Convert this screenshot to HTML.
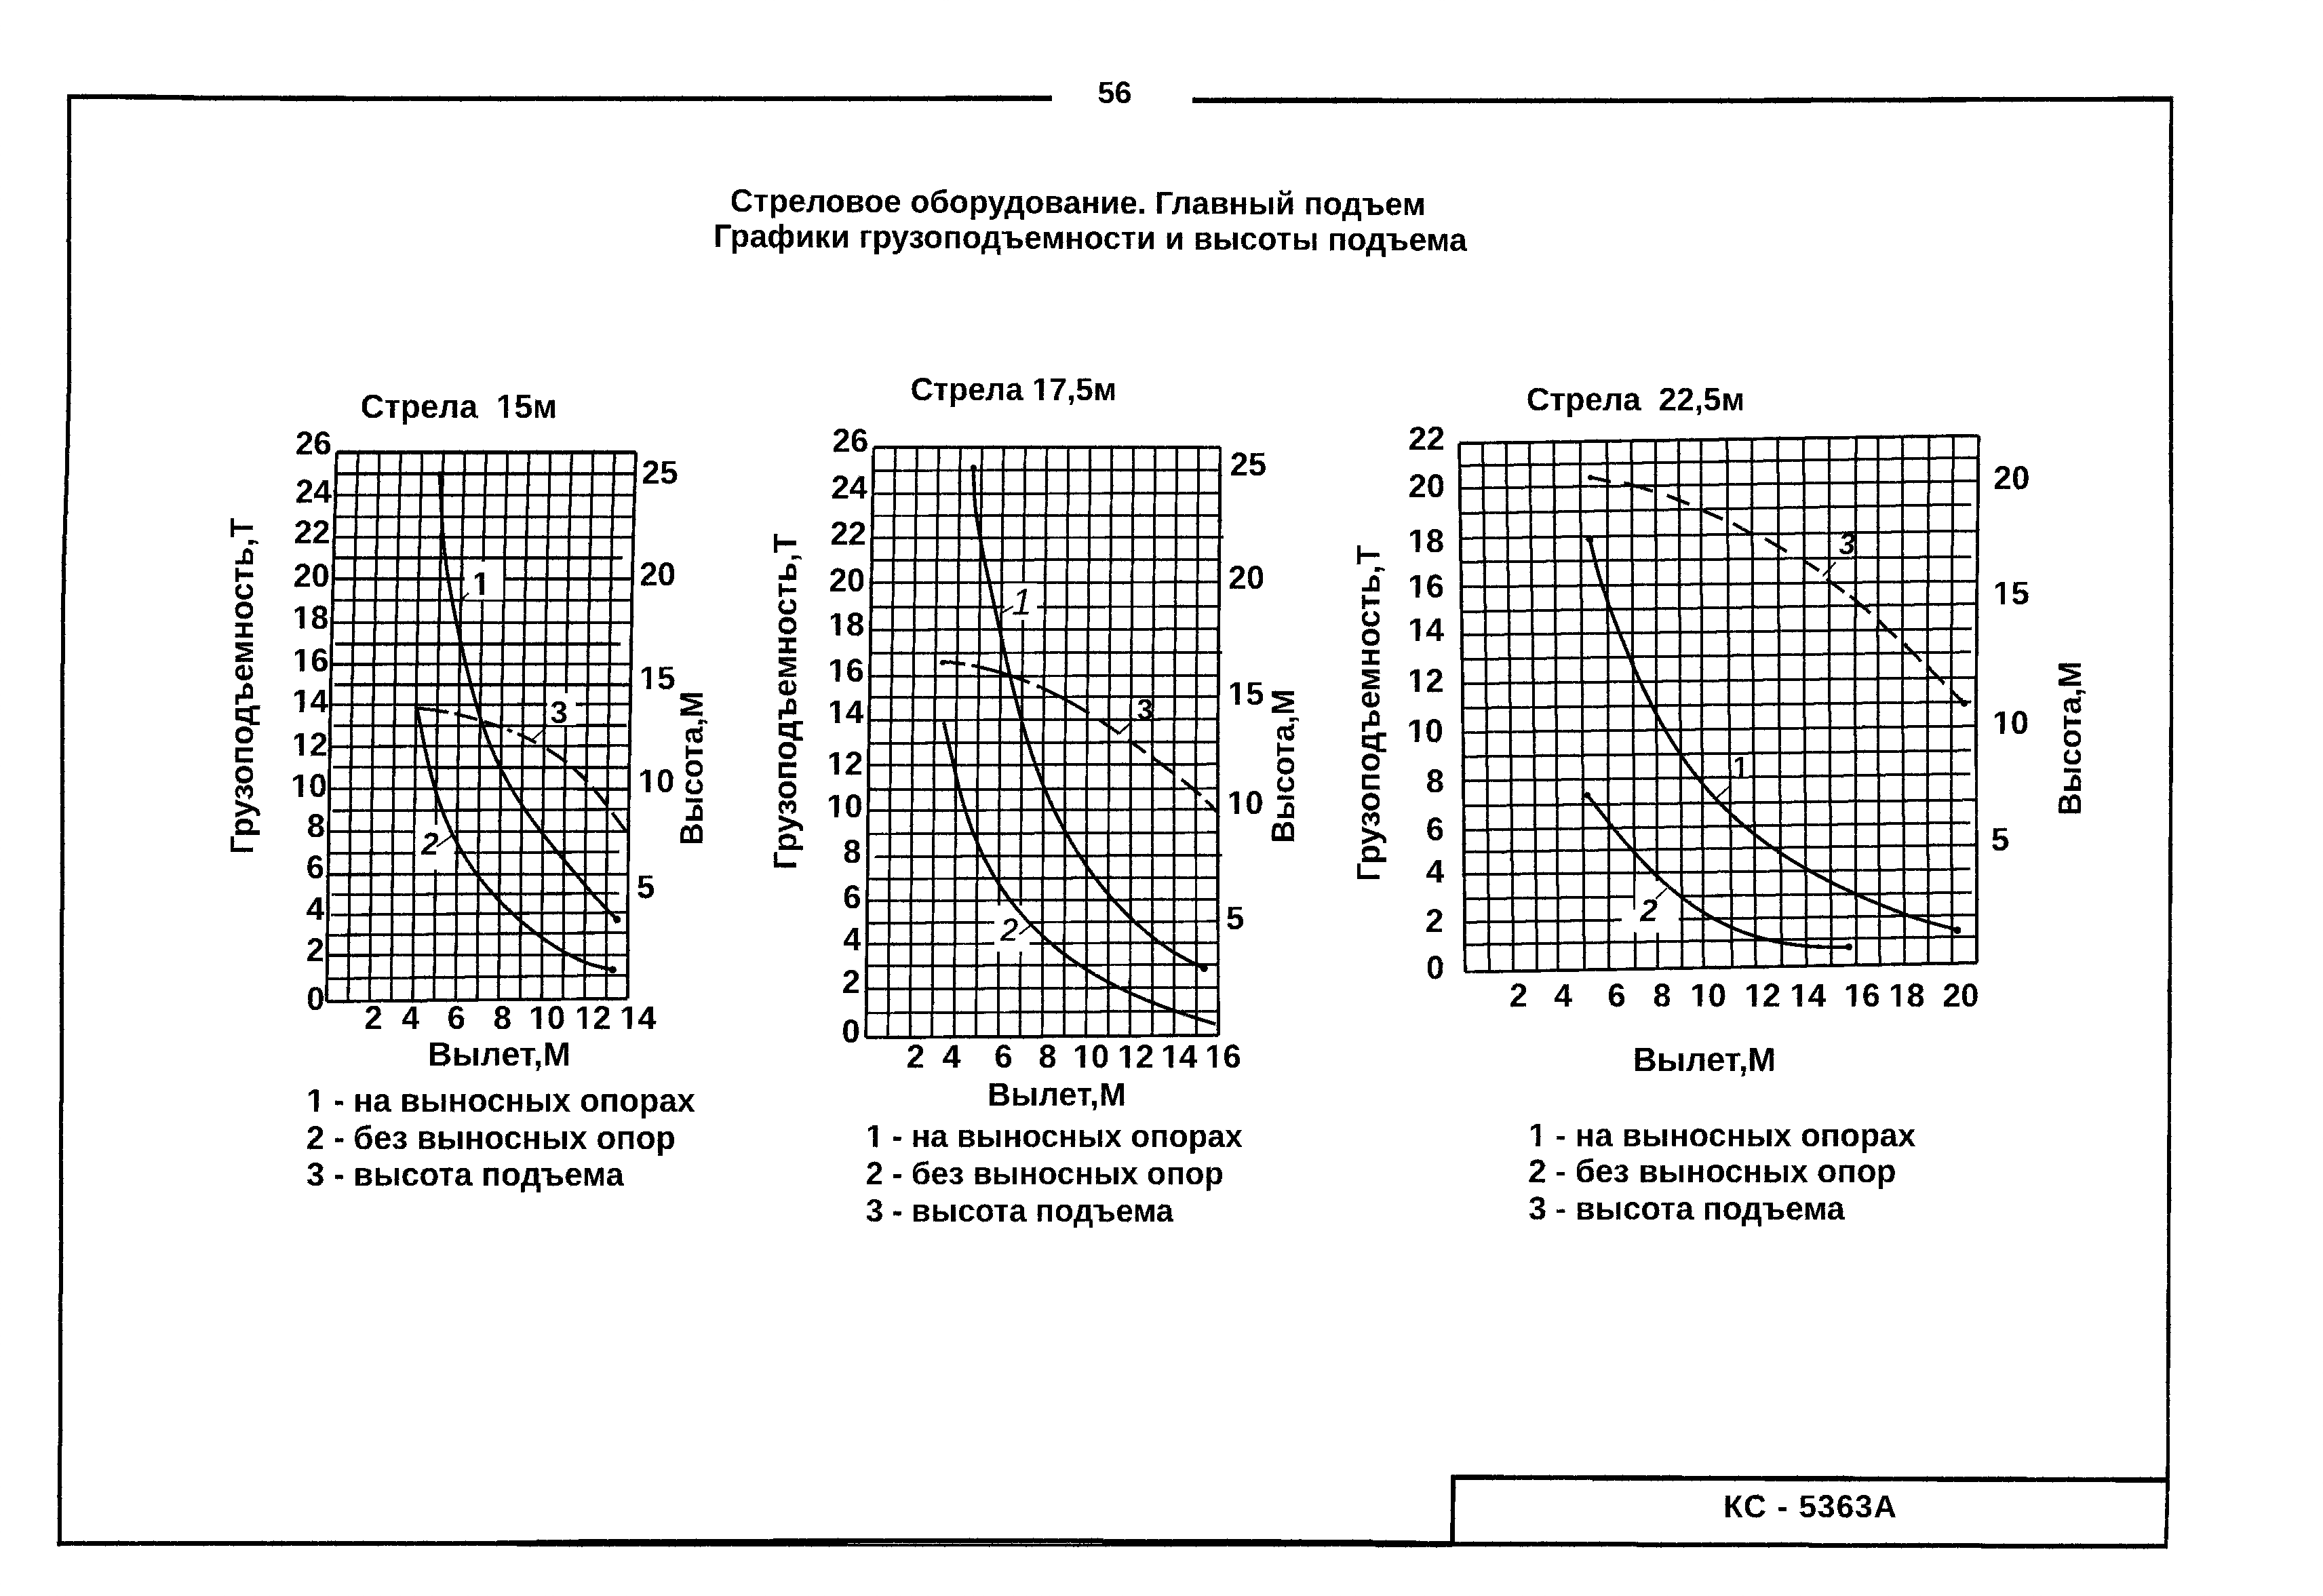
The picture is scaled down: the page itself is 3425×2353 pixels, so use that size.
<!DOCTYPE html>
<html lang="ru"><head><meta charset="utf-8"><title>КС - 5363А — стр. 56</title>
<style>
html,body{margin:0;padding:0;background:#fdfdfd;}
body{width:3425px;height:2353px;overflow:hidden;position:relative;}
svg{position:absolute;left:0;top:0;display:block;}
svg text{font-family:"Liberation Sans",sans-serif;font-weight:bold;fill:#000;stroke:none;text-rendering:geometricPrecision;}
svg line,svg polyline,svg path{stroke:#000;fill:none;stroke-linecap:butt;stroke-linejoin:round;}
</style></head><body>
<svg width="3425" height="2353" viewBox="0 0 3425 2353">
<defs><filter id="rough" x="0" y="0" width="100%" height="100%" filterUnits="userSpaceOnUse" color-interpolation-filters="sRGB"><feTurbulence type="fractalNoise" baseFrequency="0.35" numOctaves="2" seed="7" result="n"/><feDisplacementMap in="SourceGraphic" in2="n" scale="2.2" xChannelSelector="R" yChannelSelector="G" result="d"/><feComponentTransfer in="d"><feFuncR type="discrete" tableValues="0 1"/><feFuncG type="discrete" tableValues="0 1"/><feFuncB type="discrete" tableValues="0 1"/></feComponentTransfer></filter></defs>
<rect x="0" y="0" width="3425" height="2353" fill="#fdfdfd" stroke="none"/>
<g filter="url(#rough)">
<rect x="0" y="0" width="3425" height="2353" fill="#fdfdfd" stroke="none"/>
<g id="frame">
<polyline points="102.2,139.4 101.5,355 102,560 98.6,698 93.9,835 92.3,1000 92,1200 89,2050 87.6,2279" stroke-width="6"/>
<polyline points="99.2,142.4 230,143.2 320,144.7 800,145.6 1250,145.5 1551,144.8" stroke-width="7.2"/>
<polyline points="1758,148 2500,148.6 2950,146.6 3204,145.9" stroke-width="7.2"/>
<polyline points="3201.4,143 3200.6,355 3201.7,1000 3200,1275 3196.6,2050 3196.2,2182 3193.4,2283" stroke-width="5.5"/>
<polyline points="84.6,2276 700,2275.5 900,2272.3 1500,2271.5 2000,2273.5 2143,2276 3196,2280" stroke-width="7"/>
<polyline points="650,2277.3 900,2277.5 1500,2278 2143,2278.6" stroke-width="4"/>
<line x1="2139.5" y1="2178" x2="3198" y2="2182" stroke-width="7.5"/>
<line x1="2142.8" y1="2175" x2="2141.3" y2="2278" stroke-width="6.5"/>
</g>
<g id="pagetext">
<text transform="translate(1643.5 152) scale(0.9852 1)" font-size="45.7" text-anchor="middle">56</text>
<text transform="translate(1589.3 314.6) rotate(0.3) scale(0.9852 1)" font-size="47.6" text-anchor="middle">Стреловое оборудование. Главный подъем</text>
<text transform="translate(1607.3 366.9) rotate(0.3) scale(0.9852 1)" font-size="47.6" text-anchor="middle">Графики грузоподъемности и высоты подъема</text>
<text transform="translate(2669.5 2236.6) scale(0.9852 1)" font-size="47.2" text-anchor="middle" letter-spacing="1.7">КС - 5363А</text>
</g>
<g id="chart1">
<polyline points="496.4,667 493.6,768.2 490.9,869.4 488.4,970.6 486.7,1071.8 485.4,1172.9 484.1,1274.1 482.9,1375.3 481.6,1476.5" stroke-width="4.8"/>
<polyline points="527.9,667 525,768.1 522.4,869.3 520,970.4 518.2,1071.6 516.9,1172.7 515.7,1273.9 514.5,1375 513.3,1476.2" stroke-width="4.1"/>
<polyline points="559.4,667 556.5,768.1 553.9,869.2 551.5,970.3 549.8,1071.4 548.5,1172.5 547.3,1273.6 546.1,1374.8 545,1475.9" stroke-width="4.1"/>
<polyline points="590.9,667 588,768.1 585.4,869.1 583.1,970.2 581.4,1071.3 580.1,1172.3 578.8,1273.4 577.8,1374.5 576.7,1475.5" stroke-width="4.1"/>
<polyline points="622.4,667 619.5,768 616.9,869.1 614.7,970.1 613,1071.1 611.6,1172.1 610.4,1273.2 609.4,1374.2 608.4,1475.2" stroke-width="4.1"/>
<polyline points="653.9,667 651,768 648.5,869 646.2,970 644.6,1070.9 643.2,1171.9 642,1272.9 641,1373.9 640.1,1474.9" stroke-width="4.1"/>
<polyline points="685.4,667 682.4,767.9 680,868.9 677.8,969.8 676.2,1070.8 674.7,1171.7 673.5,1272.7 672.7,1373.6 671.8,1474.6" stroke-width="4.1"/>
<polyline points="717,667 713.9,767.9 711.5,868.8 709.4,969.7 707.7,1070.6 706.3,1171.5 705.1,1272.4 704.3,1373.3 703.5,1474.2" stroke-width="4.1"/>
<polyline points="748.5,667 745.4,767.9 743,868.7 741,969.6 739.3,1070.5 737.8,1171.3 736.7,1272.2 735.9,1373.1 735.1,1473.9" stroke-width="4.1"/>
<polyline points="780,667 776.9,767.8 774.5,868.7 772.5,969.5 770.9,1070.3 769.4,1171.1 768.3,1272 767.5,1372.8 766.8,1473.6" stroke-width="4.1"/>
<polyline points="811.5,667 808.4,767.8 806,868.6 804.1,969.4 802.5,1070.1 801,1170.9 799.8,1271.7 799.2,1372.5 798.5,1473.3" stroke-width="4.1"/>
<polyline points="843,667 839.8,767.7 837.5,868.5 835.7,969.2 834.1,1070 832.5,1170.7 831.4,1271.5 830.8,1372.2 830.2,1473" stroke-width="4.1"/>
<polyline points="874.5,667 871.3,767.7 869,868.4 867.2,969.1 865.7,1069.8 864.1,1170.5 863,1271.2 862.4,1371.9 861.9,1472.6" stroke-width="4.1"/>
<polyline points="906,667 902.8,767.7 900.5,868.3 898.8,969 897.3,1069.7 895.6,1170.3 894.5,1271 894.1,1371.7 893.6,1472.3" stroke-width="4.1"/>
<polyline points="937.5,667 934.3,767.6 932,868.2 930.4,968.9 928.8,1069.5 927.2,1170.1 926.1,1270.8 925.7,1371.4 925.3,1472" stroke-width="4.8"/>
<polyline points="496.4,667 569.9,667 643.4,667 717,667 790.5,667 864,667 937.5,667" stroke-width="4.8"/>
<polyline points="495.5,698.4 569,698.4 642.5,698.4 716,698.4 789.5,698.4 863,698.4 936.5,698.4" stroke-width="4.1"/>
<polyline points="494.6,730.1 568.1,730.1 641.6,730.1 715.1,730.1 788.5,730.1 862,730.1 935.5,730.1" stroke-width="4.1"/>
<polyline points="493.7,761.8 567.2,761.8 640.6,761.8 714.1,761.8 787.6,761.8 861,761.8 934.5,761.8" stroke-width="4.1"/>
<polyline points="492.9,792.1 566.3,792.1 639.8,792.1 713.2,792.1 786.7,792.1 860.1,792.1 933.6,792.1" stroke-width="4.1"/>
<polyline points="492.1,822.5 563,822.5 633.9,822.5 704.8,822.5 775.7,822.5 846.6,822.5 917.5,822.5" stroke-width="4.1"/>
<polyline points="491.3,853.6 564.8,853.6 638.3,853.6 711.8,853.6 785.3,853.6 858.8,853.6 932.3,853.6" stroke-width="4.1"/>
<polyline points="490.5,885.3 564,885.3 637.6,885.2 711.1,885.2 784.6,885.1 858.2,885.1 931.7,885.1" stroke-width="4.1"/>
<polyline points="489.7,917.8 563.3,917.9 636.9,917.9 710.4,918 784,918 857.6,918.1 931.2,918.2" stroke-width="4.1"/>
<polyline points="494.2,949.4 564.4,949.4 634.6,949.4 704.7,949.4 774.9,949.4 845.1,949.4 915.2,949.4" stroke-width="4.1"/>
<polyline points="488.2,979.6 561.9,979.4 635.5,979.3 709.2,979.1 782.9,979 856.6,978.8 930.2,978.7" stroke-width="4.1"/>
<polyline points="493,1009.4 565.8,1009.4 638.6,1009.4 711.4,1009.4 784.2,1009.4 857,1009.4 929.8,1009.4" stroke-width="4.1"/>
<polyline points="487.2,1039.3 560.9,1039.1 634.5,1038.9 708.2,1038.7 781.9,1038.6 855.6,1038.4 929.3,1038.2" stroke-width="4.1"/>
<polyline points="492,1070.1 564.1,1070 636.1,1069.9 708.2,1069.8 780.3,1069.7 852.4,1069.6 924.4,1069.5" stroke-width="4.1"/>
<polyline points="486.3,1100.8 560,1100.6 633.6,1100.3 707.3,1100.1 781,1099.8 854.7,1099.6 928.4,1099.3" stroke-width="4.1"/>
<polyline points="491.2,1131.3 564,1131.3 636.8,1131.4 709.5,1131.4 782.3,1131.4 855.1,1131.5 927.8,1131.5" stroke-width="4.1"/>
<polyline points="485.5,1162.7 559.2,1162.8 632.8,1163 706.4,1163.1 780,1163.3 853.7,1163.4 927.3,1163.5" stroke-width="4.1"/>
<polyline points="490.4,1195.5 563.1,1195.1 635.9,1194.7 708.6,1194.4 781.3,1194 854.1,1193.6 926.8,1193.2" stroke-width="4.1"/>
<polyline points="484.7,1225.9 558.3,1225.9 631.9,1226 705.5,1226 779.1,1226.1 852.7,1226.1 926.3,1226.1" stroke-width="4.1"/>
<polyline points="486.5,1258.2 557.6,1257.8 628.7,1257.5 699.7,1257.1 770.8,1256.7 841.9,1256.4 912.9,1256" stroke-width="4.1"/>
<polyline points="483.9,1289.5 557.6,1289.4 631.3,1289.3 705,1289.1 778.7,1289 852.4,1288.9 926,1288.8" stroke-width="4.1"/>
<polyline points="488.9,1319.2 559.5,1318.8 630.1,1318.5 700.8,1318.1 771.4,1317.7 842,1317.4 912.7,1317" stroke-width="4.1"/>
<polyline points="488.5,1349 561.4,1348.3 634.3,1347.7 707.2,1347.1 780,1346.4 852.9,1345.8 925.8,1345.2" stroke-width="4.1"/>
<polyline points="482.8,1378.8 556.6,1378.2 630.4,1377.5 704.3,1376.9 778.1,1376.3 851.9,1375.6 925.7,1375" stroke-width="4.1"/>
<polyline points="482.4,1408.5 556.3,1408.4 630.1,1408.3 704,1408.1 777.8,1408 851.7,1407.9 925.6,1407.8" stroke-width="4.1"/>
<polyline points="482,1443 555.9,1442.1 629.8,1441.2 703.7,1440.3 777.6,1439.4 851.5,1438.5 925.4,1437.6" stroke-width="4.1"/>
<polyline points="481.6,1476.5 555.5,1475.8 629.5,1475 703.5,1474.2 777.4,1473.5 851.3,1472.8 925.3,1472" stroke-width="4.8"/>
<rect x="685" y="828" width="57" height="56" fill="#fdfdfd" stroke="none"/>
<rect x="806.5" y="1022" width="42.3" height="47" fill="#fdfdfd" stroke="none"/>
<rect x="612" y="1216" width="58" height="66" fill="#fdfdfd" stroke="none"/>
<path d="M648.3 698.5C648.7 706.6 649.8 730.7 650.7 746.9C651.6 763.1 652.2 779.6 653.7 795.8C655.2 812 657.2 828 659.5 844C661.9 860 664.8 875.8 667.8 891.7C670.8 907.5 674.2 923.3 677.6 939.2C681.1 955 684.6 970.9 688.5 986.7C692.4 1002.5 696.3 1018.3 700.9 1033.9C705.4 1049.5 710.2 1065 715.7 1080.2C721.3 1095.4 727.3 1110.3 734.2 1124.9C741.1 1139.4 748.7 1153.6 757 1167.5C765.3 1181.3 774.5 1194.7 783.9 1207.8C793.4 1221 803.6 1233.7 813.8 1246.4C823.9 1259.1 834.5 1271.6 844.9 1283.9C855.3 1296.3 865.4 1308.8 876.2 1320.8C887 1332.8 904.2 1350.1 909.8 1356" stroke-width="5.2"/>
<path d="M614.8 1044.4C615.9 1050 619.3 1066.9 621.6 1078C623.9 1089.2 626 1100.3 628.4 1111.4C630.8 1122.5 633.3 1133.6 636.2 1144.6C639.1 1155.6 642.3 1166.6 645.9 1177.4C649.5 1188.3 653.4 1199 657.8 1209.5C662.3 1220 667.1 1230.4 672.4 1240.4C677.7 1250.5 683.5 1260.3 689.7 1269.8C695.9 1279.3 702.5 1288.6 709.5 1297.5C716.6 1306.4 724 1315 731.8 1323.3C739.5 1331.6 747.7 1339.7 756.1 1347.4C764.5 1355.1 773.2 1362.5 782.1 1369.6C791.1 1376.7 800.3 1383.6 809.8 1389.9C819.2 1396.2 828.9 1402.3 838.9 1407.6C849 1412.9 859.2 1417.9 870 1421.5C880.7 1425.2 897.9 1428.2 903.5 1429.5" stroke-width="5.2"/>
<path d="M614.8 1044C619 1044.4 631.6 1045.5 639.8 1046.7C648 1047.9 656.1 1049.3 664.2 1051C672.2 1052.6 680.2 1054.5 688.2 1056.6C696.2 1058.6 704.2 1060.8 712.1 1063.3C720 1065.7 727.9 1068.3 735.7 1071.1C743.6 1073.9 751.4 1076.8 759 1080.1C766.7 1083.3 774.3 1086.7 781.7 1090.4C789.1 1094.1 796.5 1098.1 803.6 1102.3C810.7 1106.6 817.6 1111.1 824.3 1115.9C831 1120.7 837.5 1125.8 843.7 1131.2C850 1136.6 856 1142.3 861.8 1148.3C867.6 1154.2 873.1 1160.4 878.4 1166.8C883.8 1173.2 888.9 1179.8 894 1186.5C899 1193.1 903.9 1199.9 908.8 1206.6C913.8 1213.2 921.2 1222.9 923.7 1226.2" stroke-width="5" stroke-dasharray="47 9 35 10 30 6 8 8 31 18 36 10 32 10 34 14 60"/>
<circle cx="648.4" cy="699" r="4.5" fill="#000" stroke="none"/>
<circle cx="909.6" cy="1355.5" r="5.5" fill="#000" stroke="none"/>
<circle cx="903.4" cy="1429.8" r="5.5" fill="#000" stroke="none"/>
<line x1="690.9" y1="874.5" x2="680.5" y2="883.5" stroke-width="2.6"/>
<line x1="803.7" y1="1073.6" x2="783" y2="1092.4" stroke-width="2.6"/>
<line x1="643.9" y1="1248.4" x2="668.3" y2="1230.5" stroke-width="2.6"/>
<text transform="translate(709.5 877) scale(0.9852 1)" font-size="48.7" text-anchor="middle">1</text>
<text transform="translate(824.3 1065.5) scale(0.9852 1)" font-size="46.7" text-anchor="middle">3</text>
<text transform="translate(634 1259.8) scale(0.9852 1)" font-size="46.7" text-anchor="middle" font-style="italic">2</text>
<text transform="translate(531.5 616) scale(0.9852 1)" font-size="49.2" xml:space="preserve">Стрела  15м</text>
<text transform="translate(489 669.5) scale(0.9852 1)" font-size="48.7" text-anchor="end">26</text>
<text transform="translate(489 741) scale(0.9852 1)" font-size="48.7" text-anchor="end">24</text>
<text transform="translate(487 801.2) scale(0.9852 1)" font-size="48.7" text-anchor="end">22</text>
<text transform="translate(486 864.5) scale(0.9852 1)" font-size="48.7" text-anchor="end">20</text>
<text transform="translate(484.7 927.4) scale(0.9852 1)" font-size="48.7" text-anchor="end">18</text>
<text transform="translate(484.7 990) scale(0.9852 1)" font-size="48.7" text-anchor="end">16</text>
<text transform="translate(484 1049.8) scale(0.9852 1)" font-size="48.7" text-anchor="end">14</text>
<text transform="translate(483.5 1113.5) scale(0.9852 1)" font-size="48.7" text-anchor="end">12</text>
<text transform="translate(482.3 1174.6) scale(0.9852 1)" font-size="48.7" text-anchor="end">10</text>
<text transform="translate(479.2 1233.5) scale(0.9852 1)" font-size="48.7" text-anchor="end">8</text>
<text transform="translate(478.2 1295.2) scale(0.9852 1)" font-size="48.7" text-anchor="end">6</text>
<text transform="translate(478.2 1356.2) scale(0.9852 1)" font-size="48.7" text-anchor="end">4</text>
<text transform="translate(478.2 1417.3) scale(0.9852 1)" font-size="48.7" text-anchor="end">2</text>
<text transform="translate(465.3 1489.3) scale(0.9852 1)" font-size="48.7" text-anchor="middle">0</text>
<text transform="translate(973 713) scale(0.9852 1)" font-size="48.7" text-anchor="middle">25</text>
<text transform="translate(969.6 863.2) scale(0.9852 1)" font-size="48.7" text-anchor="middle">20</text>
<text transform="translate(969.1 1016.2) scale(0.9852 1)" font-size="48.7" text-anchor="middle">15</text>
<text transform="translate(967.8 1168.4) scale(0.9852 1)" font-size="48.7" text-anchor="middle">10</text>
<text transform="translate(952.2 1324) scale(0.9852 1)" font-size="48.7" text-anchor="middle">5</text>
<text transform="translate(550.5 1516.8) scale(0.9852 1)" font-size="48.7" text-anchor="middle">2</text>
<text transform="translate(605.4 1516.8) scale(0.9852 1)" font-size="48.7" text-anchor="middle">4</text>
<text transform="translate(672.8 1516.8) scale(0.9852 1)" font-size="48.7" text-anchor="middle">6</text>
<text transform="translate(740.8 1516.8) scale(0.9852 1)" font-size="48.7" text-anchor="middle">8</text>
<text transform="translate(806.7 1516.8) scale(0.9852 1)" font-size="48.7" text-anchor="middle">10</text>
<text transform="translate(874.2 1516.8) scale(0.9852 1)" font-size="48.7" text-anchor="middle">12</text>
<text transform="translate(940.5 1516.8) scale(0.9852 1)" font-size="48.7" text-anchor="middle">14</text>
<text transform="translate(736 1570.8) scale(0.9852 1)" font-size="50.2" text-anchor="middle">Вылет,М</text>
<text transform="translate(451.8 1639.2) scale(0.9852 1)" font-size="48.7">1 - на выносных опорах</text>
<text transform="translate(451.8 1694.2) scale(0.9852 1)" font-size="48.7">2 - без выносных опор</text>
<text transform="translate(451.8 1748) scale(0.9852 1)" font-size="48.7">3 - высота подъема</text>
<text transform="translate(373 1011.5) rotate(-90) scale(0.9852 1)" font-size="48.7" text-anchor="middle">Грузоподъемность,Т</text>
<text transform="translate(1036 1133) rotate(-90) scale(0.9852 1)" font-size="47.4" text-anchor="middle">Высота,М</text>
</g>
<g id="chart2">
<polyline points="1288.1,660 1286.3,768.7 1284.5,877.4 1282.8,986.1 1281,1094.8 1279.9,1203.5 1278.9,1312.2 1277.8,1420.9 1276.8,1529.6" stroke-width="4.8"/>
<polyline points="1320,660 1318.3,768.6 1316.6,877.3 1314.9,986 1313.1,1094.7 1312.1,1203.4 1311.2,1312 1310.2,1420.7 1309.3,1529.4" stroke-width="3.9"/>
<polyline points="1352,659.9 1350.3,768.6 1348.6,877.2 1347,985.9 1345.3,1094.6 1344.4,1203.2 1343.5,1311.9 1342.6,1420.5 1341.7,1529.2" stroke-width="3.9"/>
<polyline points="1383.9,659.9 1382.3,768.5 1380.7,877.2 1379.1,985.8 1377.5,1094.4 1376.6,1203.1 1375.8,1311.7 1375,1420.4 1374.2,1529" stroke-width="3.9"/>
<polyline points="1415.8,659.8 1414.3,768.4 1412.7,877.1 1411.2,985.7 1409.6,1094.3 1408.9,1202.9 1408.1,1311.6 1407.4,1420.2 1406.7,1528.8" stroke-width="3.9"/>
<polyline points="1447.8,659.8 1446.3,768.4 1444.8,877 1443.3,985.6 1441.8,1094.2 1441.1,1202.8 1440.4,1311.4 1439.8,1420 1439.1,1528.6" stroke-width="3.9"/>
<polyline points="1479.7,659.7 1478.3,768.3 1476.8,876.9 1475.4,985.5 1474,1094.1 1473.3,1202.7 1472.7,1311.2 1472.2,1419.8 1471.6,1528.4" stroke-width="3.9"/>
<polyline points="1511.7,659.7 1510.3,768.3 1508.9,876.8 1507.5,985.4 1506.1,1093.9 1505.6,1202.5 1505,1311.1 1504.5,1419.6 1504,1528.2" stroke-width="3.9"/>
<polyline points="1543.6,659.6 1542.3,768.2 1540.9,876.7 1539.6,985.3 1538.3,1093.8 1537.8,1202.4 1537.4,1310.9 1536.9,1419.5 1536.5,1528" stroke-width="3.9"/>
<polyline points="1575.5,659.6 1574.3,768.1 1573,876.7 1571.7,985.2 1570.4,1093.7 1570,1202.2 1569.7,1310.8 1569.3,1419.3 1569,1527.8" stroke-width="3.9"/>
<polyline points="1607.5,659.6 1606.3,768.1 1605,876.6 1603.8,985.1 1602.6,1093.6 1602.3,1202.1 1602,1310.6 1601.7,1419.1 1601.4,1527.6" stroke-width="3.9"/>
<polyline points="1639.4,659.5 1638.2,768 1637.1,876.5 1635.9,985 1634.8,1093.5 1634.5,1201.9 1634.3,1310.4 1634.1,1418.9 1633.9,1527.4" stroke-width="3.9"/>
<polyline points="1671.3,659.5 1670.2,767.9 1669.1,876.4 1668,984.9 1666.9,1093.3 1666.7,1201.8 1666.6,1310.3 1666.5,1418.7 1666.3,1527.2" stroke-width="3.9"/>
<polyline points="1703.3,659.4 1702.2,767.9 1701.2,876.3 1700.1,984.8 1699.1,1093.2 1699,1201.7 1698.9,1310.1 1698.9,1418.6 1698.8,1527" stroke-width="3.9"/>
<polyline points="1735.2,659.4 1734.2,767.8 1733.2,876.2 1732.2,984.7 1731.2,1093.1 1731.2,1201.5 1731.2,1309.9 1731.2,1418.4 1731.3,1526.8" stroke-width="3.9"/>
<polyline points="1767.2,659.3 1766.2,767.8 1765.3,876.2 1764.3,984.6 1763.4,1093 1763.4,1201.4 1763.5,1309.8 1763.6,1418.2 1763.7,1526.6" stroke-width="3.9"/>
<polyline points="1799.1,659.3 1798.2,767.7 1797.3,876.1 1796.4,984.5 1795.6,1092.8 1795.7,1201.2 1795.8,1309.6 1796,1418 1796.2,1526.4" stroke-width="4.8"/>
<polyline points="1288.1,660 1373.3,659.9 1458.4,659.8 1543.6,659.6 1628.8,659.5 1713.9,659.4 1799.1,659.3" stroke-width="4.8"/>
<polyline points="1287.5,693.7 1372.8,693.6 1458,693.4 1543.2,693.3 1628.4,693.2 1713.6,693 1798.8,692.9" stroke-width="3.9"/>
<polyline points="1287,728 1372.2,727.9 1457.5,727.7 1542.8,727.6 1628,727.4 1713.3,727.3 1798.5,727.1" stroke-width="3.9"/>
<polyline points="1286.5,760.6 1371.8,760.4 1457.1,760.3 1542.4,760.1 1627.7,759.9 1713,759.8 1798.3,759.6" stroke-width="3.9"/>
<polyline points="1285.9,793.1 1372.3,792.9 1458.7,792.7 1545,792.6 1631.4,792.4 1717.8,792.2 1804.2,792" stroke-width="3.9"/>
<polyline points="1285.4,826 1370.8,825.8 1456.2,825.6 1541.6,825.4 1627,825.2 1712.4,825 1797.7,824.8" stroke-width="3.9"/>
<polyline points="1284.8,859.5 1370.3,859.3 1455.7,859.1 1541.2,858.9 1626.6,858.7 1712,858.4 1797.5,858.2" stroke-width="3.9"/>
<polyline points="1284.2,895.5 1369.7,895.3 1455.2,895 1540.7,894.8 1626.2,894.6 1711.7,894.4 1797.2,894.1" stroke-width="3.9"/>
<polyline points="1283.7,928.7 1369.2,928.5 1454.8,928.2 1540.3,928 1625.8,927.7 1711.4,927.5 1796.9,927.2" stroke-width="3.9"/>
<polyline points="1283.1,963.1 1369.6,962.8 1456,962.6 1542.5,962.3 1628.9,962 1715.3,961.8 1801.8,961.5" stroke-width="3.9"/>
<polyline points="1282.6,997.4 1368.2,997.1 1453.8,996.8 1539.5,996.6 1625.1,996.3 1710.7,996 1796.4,995.7" stroke-width="3.9"/>
<polyline points="1282.1,1028.5 1367.7,1028.2 1453.4,1027.9 1539.1,1027.6 1624.8,1027.3 1710.4,1027 1796.1,1026.7" stroke-width="3.9"/>
<polyline points="1281.5,1062 1367.2,1061.7 1453,1061.4 1538.7,1061.1 1624.4,1060.8 1710.1,1060.5 1795.8,1060.1" stroke-width="3.9"/>
<polyline points="1281,1095.8 1366.7,1095.5 1452.5,1095.1 1538.3,1094.8 1624,1094.5 1709.8,1094.2 1795.6,1093.8" stroke-width="3.9"/>
<polyline points="1280.6,1128.4 1366.4,1128.1 1452.3,1127.7 1538.1,1127.4 1623.9,1127 1709.7,1126.7 1795.5,1126.4" stroke-width="3.9"/>
<polyline points="1280.3,1164.5 1366.2,1164.1 1452.1,1163.8 1537.9,1163.4 1623.8,1163.1 1709.7,1162.7 1795.6,1162.3" stroke-width="3.9"/>
<polyline points="1280,1195.3 1365.9,1194.9 1451.9,1194.6 1537.8,1194.2 1623.8,1193.8 1709.7,1193.4 1795.7,1193.1" stroke-width="3.9"/>
<polyline points="1279.7,1229.6 1365.7,1229.2 1451.7,1228.8 1537.7,1228.4 1623.7,1228 1709.7,1227.7 1795.7,1227.3" stroke-width="3.9"/>
<polyline points="1289.7,1263.2 1375.1,1262.7 1460.4,1262.3 1545.8,1261.9 1631.2,1261.5 1716.6,1261.1 1802,1260.8" stroke-width="3.9"/>
<polyline points="1279,1296 1365.2,1295.6 1451.3,1295.2 1537.4,1294.7 1623.6,1294.3 1709.7,1293.9 1795.8,1293.5" stroke-width="3.9"/>
<polyline points="1278.7,1328.5 1364.9,1328.1 1451.1,1327.6 1537.3,1327.2 1623.5,1326.8 1709.7,1326.3 1795.9,1325.9" stroke-width="3.9"/>
<polyline points="1278.4,1361 1364.7,1360.5 1450.9,1360.1 1537.2,1359.6 1623.4,1359.2 1709.7,1358.7 1795.9,1358.3" stroke-width="3.9"/>
<polyline points="1278.1,1392.3 1364.4,1391.8 1450.7,1391.4 1537,1390.9 1623.4,1390.4 1709.7,1390 1796,1389.5" stroke-width="3.9"/>
<polyline points="1277.8,1424.5 1364.2,1424 1450.5,1423.5 1536.9,1423.1 1623.3,1422.6 1709.7,1422.1 1796,1421.6" stroke-width="3.9"/>
<polyline points="1277.5,1458.5 1363.9,1458 1450.3,1457.5 1536.8,1457 1623.2,1456.5 1709.6,1456 1796.1,1455.5" stroke-width="3.9"/>
<polyline points="1277.1,1493.6 1363.6,1493.1 1450.1,1492.6 1536.6,1492.1 1623.1,1491.5 1709.6,1491 1796.1,1490.5" stroke-width="3.9"/>
<polyline points="1276.8,1529.6 1363.4,1529.1 1449.9,1528.5 1536.5,1528 1623.1,1527.5 1709.6,1526.9 1796.2,1526.4" stroke-width="4.8"/>
<rect x="1481" y="860" width="48" height="54" fill="#fdfdfd" stroke="none"/>
<rect x="1676" y="1031" width="22" height="29" fill="#fdfdfd" stroke="none"/>
<rect x="1466" y="1335" width="52" height="68" fill="#fdfdfd" stroke="none"/>
<path d="M1435.3 689C1435.7 698.5 1435.9 727.3 1437.8 746.1C1439.8 764.9 1443.4 783.2 1446.7 801.7C1450.1 820.1 1454.2 838.4 1458.2 856.8C1462.1 875.2 1466.2 893.6 1470.2 912C1474.3 930.4 1478.3 948.9 1482.6 967.3C1486.8 985.8 1491 1004.2 1495.7 1022.6C1500.3 1040.9 1505 1059.2 1510.4 1077.3C1515.8 1095.4 1521.5 1113.4 1527.9 1131.1C1534.4 1148.8 1541.4 1166.3 1549.2 1183.5C1557.1 1200.6 1565.6 1217.5 1574.9 1233.8C1584.3 1250.2 1594.5 1266.3 1605.5 1281.7C1616.5 1297 1628.3 1312 1640.9 1326.2C1653.5 1340.3 1666.9 1353.9 1681.1 1366.4C1695.2 1378.8 1710.1 1390.7 1725.8 1401C1741.5 1411.2 1767 1423.5 1775.2 1428" stroke-width="5.2"/>
<path d="M1391.3 1064.3C1392.9 1071.3 1397.7 1092.1 1400.9 1106.1C1404.2 1120 1407.1 1134 1410.6 1147.9C1414 1161.8 1417.6 1175.8 1421.8 1189.4C1426 1203.1 1430.5 1216.8 1435.7 1230.1C1441 1243.3 1446.7 1256.5 1453.2 1269.2C1459.7 1281.9 1466.8 1294.3 1474.6 1306.2C1482.4 1318.1 1490.8 1329.7 1499.9 1340.7C1508.9 1351.7 1518.6 1362.2 1528.9 1372.2C1539.1 1382.2 1549.9 1391.7 1561.1 1400.6C1572.3 1409.5 1584.1 1417.8 1596 1425.7C1608 1433.5 1620.5 1440.7 1633.1 1447.5C1645.7 1454.3 1658.6 1460.6 1671.6 1466.4C1684.6 1472.3 1697.8 1477.7 1711.2 1482.8C1724.5 1487.9 1737.9 1492.5 1751.5 1497C1765 1501.6 1785.7 1507.8 1792.6 1509.9" stroke-width="5.2"/>
<path d="M1387.5 975.3C1392.7 975.9 1408.5 977.1 1418.9 978.6C1429.3 980.2 1439.7 982.3 1449.9 984.7C1460.1 987.1 1470.3 989.9 1480.4 993.1C1490.4 996.2 1500.4 999.7 1510.3 1003.5C1520.1 1007.3 1529.8 1011.4 1539.4 1015.8C1549 1020.2 1558.4 1024.9 1567.8 1029.8C1577.1 1034.8 1586.2 1040 1595.3 1045.4C1604.3 1050.8 1613.2 1056.5 1622 1062.2C1630.8 1068 1639.5 1074 1648.1 1080C1656.8 1086 1665.3 1092.2 1673.9 1098.4C1682.4 1104.6 1690.9 1110.8 1699.4 1117.1C1707.9 1123.4 1716.4 1129.6 1724.8 1136C1733.2 1142.4 1741.6 1148.7 1749.7 1155.3C1757.9 1162 1766.1 1168.6 1773.7 1175.8C1781.4 1183.1 1791.9 1195.1 1795.5 1198.9" stroke-width="5" stroke-dasharray="36 9 90 11 88 17 36 16 32 12 40 14 37 10 40"/>
<circle cx="1435.3" cy="689.5" r="4.5" fill="#000" stroke="none"/>
<circle cx="1775.2" cy="1427.5" r="5.5" fill="#000" stroke="none"/>
<circle cx="1390" cy="977" r="3.8" fill="#000" stroke="none"/>
<line x1="1494" y1="893.9" x2="1474" y2="905.2" stroke-width="2.6"/>
<polyline points="1665.7,1066.8 1649.4,1081.9" stroke-width="3"/>
<line x1="1502.7" y1="1377.5" x2="1521.4" y2="1362.7" stroke-width="2.8"/>
<text transform="translate(1506.5 906) scale(0.9852 1)" font-size="54.8" text-anchor="middle" style="font-style:italic;font-weight:normal">1</text>
<text transform="translate(1688.3 1060.5) scale(0.9852 1)" font-size="43.6" text-anchor="middle">3</text>
<text transform="translate(1488 1387.3) scale(0.9852 1)" font-size="46.7" text-anchor="middle" style="font-style:italic;font-weight:normal;stroke:#000;stroke-width:1px">2</text>
<text transform="translate(1342.5 590) scale(0.9852 1)" font-size="47.2">Стрела 17,5м</text>
<text transform="translate(1280.5 666) scale(0.9852 1)" font-size="48.7" text-anchor="end">26</text>
<text transform="translate(1279 734.6) scale(0.9852 1)" font-size="48.7" text-anchor="end">24</text>
<text transform="translate(1277.5 802.5) scale(0.9852 1)" font-size="48.7" text-anchor="end">22</text>
<text transform="translate(1275.5 871.8) scale(0.9852 1)" font-size="48.7" text-anchor="end">20</text>
<text transform="translate(1274.5 937) scale(0.9852 1)" font-size="48.7" text-anchor="end">18</text>
<text transform="translate(1274 1005) scale(0.9852 1)" font-size="48.7" text-anchor="end">16</text>
<text transform="translate(1273.5 1065.8) scale(0.9852 1)" font-size="48.7" text-anchor="end">14</text>
<text transform="translate(1272.5 1142) scale(0.9852 1)" font-size="48.7" text-anchor="end">12</text>
<text transform="translate(1272 1205.3) scale(0.9852 1)" font-size="48.7" text-anchor="end">10</text>
<text transform="translate(1269.8 1272.2) scale(0.9852 1)" font-size="48.7" text-anchor="end">8</text>
<text transform="translate(1269.8 1339.1) scale(0.9852 1)" font-size="48.7" text-anchor="end">6</text>
<text transform="translate(1269.8 1400.6) scale(0.9852 1)" font-size="48.7" text-anchor="end">4</text>
<text transform="translate(1268.5 1464) scale(0.9852 1)" font-size="48.7" text-anchor="end">2</text>
<text transform="translate(1268 1537) scale(0.9852 1)" font-size="48.7" text-anchor="end">0</text>
<text transform="translate(1840.5 701.2) scale(0.9852 1)" font-size="48.7" text-anchor="middle">25</text>
<text transform="translate(1837.8 867.5) scale(0.9852 1)" font-size="48.7" text-anchor="middle">20</text>
<text transform="translate(1837 1038.8) scale(0.9852 1)" font-size="48.7" text-anchor="middle">15</text>
<text transform="translate(1836 1200) scale(0.9852 1)" font-size="48.7" text-anchor="middle">10</text>
<text transform="translate(1821.2 1369.8) scale(0.9852 1)" font-size="48.7" text-anchor="middle">5</text>
<text transform="translate(1350 1573.6) scale(0.9852 1)" font-size="48.7" text-anchor="middle">2</text>
<text transform="translate(1402.8 1573.6) scale(0.9852 1)" font-size="48.7" text-anchor="middle">4</text>
<text transform="translate(1479.7 1573.6) scale(0.9852 1)" font-size="48.7" text-anchor="middle">6</text>
<text transform="translate(1544.5 1573.6) scale(0.9852 1)" font-size="48.7" text-anchor="middle">8</text>
<text transform="translate(1608.7 1573.6) scale(0.9852 1)" font-size="48.7" text-anchor="middle">10</text>
<text transform="translate(1674.7 1573.6) scale(0.9852 1)" font-size="48.7" text-anchor="middle">12</text>
<text transform="translate(1738.6 1573.6) scale(0.9852 1)" font-size="48.7" text-anchor="middle">14</text>
<text transform="translate(1803.2 1573.6) scale(0.9852 1)" font-size="48.7" text-anchor="middle">16</text>
<text transform="translate(1558 1630) scale(0.9852 1)" font-size="48.7" text-anchor="middle">Вылет,М</text>
<text transform="translate(1276.5 1691.4) scale(0.9852 1)" font-size="47.2">1 - на выносных опорах</text>
<text transform="translate(1276.5 1745.6) scale(0.9852 1)" font-size="47.2">2 - без выносных опор</text>
<text transform="translate(1276.5 1801.2) scale(0.9852 1)" font-size="47.2">3 - высота подъема</text>
<text transform="translate(1174 1034) rotate(-90) scale(0.9852 1)" font-size="48.7" text-anchor="middle">Грузоподъемность,Т</text>
<text transform="translate(1907.5 1129.3) rotate(-90) scale(0.9852 1)" font-size="47.4" text-anchor="middle">Высота,М</text>
</g>
<g id="chart3">
<polyline points="2151.6,653.7 2152.9,751.1 2154.2,848.6 2155.6,946 2156.7,1043.5 2157.6,1140.9 2158.4,1238.3 2159.3,1335.8 2160.2,1433.2" stroke-width="4.8"/>
<polyline points="2186.1,653.2 2187.5,750.6 2188.9,848 2190.3,945.4 2191.6,1042.9 2192.6,1140.3 2193.6,1237.7 2194.7,1335.1 2195.7,1432.6" stroke-width="4"/>
<polyline points="2220.5,652.7 2222.1,750.1 2223.6,847.5 2225.2,944.9 2226.6,1042.3 2227.8,1139.7 2229.1,1237.1 2230.3,1334.5 2231.5,1431.9" stroke-width="4"/>
<polyline points="2255,652.1 2256.6,749.5 2258.1,846.9 2259.7,944.3 2261.1,1041.7 2262.4,1139.1 2263.7,1236.5 2265,1333.9 2266.4,1431.3" stroke-width="4"/>
<polyline points="2290.9,651.6 2291.8,749 2292.7,846.4 2293.6,943.8 2294.4,1041.2 2295.2,1138.5 2296,1235.9 2296.7,1333.3 2297.5,1430.7" stroke-width="4"/>
<polyline points="2329.5,651 2330.3,748.4 2331.2,845.8 2332,943.1 2332.8,1040.5 2333.6,1137.9 2334.4,1235.3 2335.1,1332.6 2335.9,1430" stroke-width="4"/>
<polyline points="2369.4,650.4 2369.8,747.8 2370.2,845.2 2370.6,942.5 2370.9,1039.9 2371.3,1137.2 2371.7,1234.6 2372.1,1332 2372.5,1429.3" stroke-width="4"/>
<polyline points="2405.3,649.9 2406,747.2 2406.6,844.6 2407.3,941.9 2407.9,1039.3 2408.7,1136.6 2409.5,1234 2410.2,1331.3 2411,1428.6" stroke-width="4"/>
<polyline points="2441.1,649.4 2441.4,746.7 2441.6,844 2441.9,941.4 2442.2,1038.7 2442.7,1136 2443.1,1233.4 2443.5,1330.7 2444,1428" stroke-width="4"/>
<polyline points="2475,648.8 2475.6,746.2 2476.1,843.5 2476.7,940.8 2477.3,1038.1 2478.1,1135.4 2478.9,1232.7 2479.7,1330.1 2480.5,1427.4" stroke-width="4"/>
<polyline points="2507.7,648.4 2508,745.7 2508.4,843 2508.7,940.3 2509.1,1037.6 2509.7,1134.9 2510.4,1232.2 2511,1329.5 2511.6,1426.8" stroke-width="4"/>
<polyline points="2546.4,647.8 2547.1,745.1 2547.8,842.3 2548.5,939.6 2549.3,1036.9 2550.5,1134.2 2551.6,1231.5 2552.7,1328.8 2553.8,1426.1" stroke-width="4"/>
<polyline points="2582.7,647.2 2583.2,744.5 2583.7,841.8 2584.2,939.1 2584.8,1036.3 2585.7,1133.6 2586.7,1230.9 2587.6,1328.1 2588.6,1425.4" stroke-width="4"/>
<polyline points="2621.3,646.6 2621.7,743.9 2622.1,841.2 2622.6,938.4 2623.1,1035.7 2624.1,1132.9 2625.1,1230.2 2626,1327.5 2627,1424.7" stroke-width="4"/>
<polyline points="2659.4,646.1 2659.6,743.3 2659.8,840.6 2660,937.8 2660.3,1035.1 2661.2,1132.3 2662,1229.6 2662.8,1326.8 2663.6,1424.1" stroke-width="4"/>
<polyline points="2697.1,645.5 2697.1,742.7 2697.1,840 2697.1,937.2 2697.4,1034.5 2698.1,1131.7 2698.8,1228.9 2699.5,1326.2 2700.3,1423.4" stroke-width="4"/>
<polyline points="2736.6,644.9 2736.2,742.1 2735.8,839.4 2735.4,936.6 2735.3,1033.8 2735.7,1131 2736.1,1228.3 2736.5,1325.5 2736.9,1422.7" stroke-width="4"/>
<polyline points="2768.8,644.4 2768.7,741.6 2768.6,838.8 2768.5,936.1 2768.6,1033.3 2769.4,1130.5 2770.1,1227.7 2770.9,1324.9 2771.6,1422.1" stroke-width="4"/>
<polyline points="2805.5,643.9 2805.3,741.1 2805.2,838.3 2805,935.5 2805.1,1032.7 2805.9,1129.9 2806.7,1227 2807.5,1324.2 2808.2,1421.4" stroke-width="4"/>
<polyline points="2844.1,643.3 2843.4,740.5 2842.7,837.7 2842,934.9 2841.7,1032 2842,1129.2 2842.4,1226.4 2842.7,1323.6 2843.1,1420.8" stroke-width="4"/>
<polyline points="2879.9,642.8 2879.1,739.9 2878.2,837.1 2877.4,934.3 2876.8,1031.5 2877.1,1128.6 2877.4,1225.8 2877.6,1323 2877.9,1420.2" stroke-width="4"/>
<polyline points="2917.2,642.2 2916.2,739.4 2915.2,836.5 2914.3,933.7 2913.7,1030.8 2913.9,1128 2914.1,1225.2 2914.3,1322.3 2914.5,1419.5" stroke-width="4.8"/>
<polyline points="2151.6,653.7 2279.2,651.8 2406.8,649.9 2534.4,648 2662,646 2789.6,644.1 2917.2,642.2" stroke-width="4.8"/>
<polyline points="2152,686.8 2279.5,684.7 2407,682.7 2534.5,680.6 2661.9,678.5 2789.4,676.5 2916.9,674.4" stroke-width="4"/>
<polyline points="2152.5,719.9 2279.8,718.1 2407.2,716.2 2534.5,714.4 2661.9,712.6 2789.2,710.7 2916.5,708.9" stroke-width="4"/>
<polyline points="2153,757.1 2278.5,754.8 2404.1,752.6 2529.6,750.3 2655.2,748 2780.7,745.7 2906.3,743.5" stroke-width="4"/>
<polyline points="2153.5,793.8 2280.6,791.9 2407.6,790 2534.6,788.2 2661.7,786.3 2788.7,784.4 2915.8,782.5" stroke-width="4"/>
<polyline points="2154,828.8 2279.4,827.4 2404.8,826.1 2530.1,824.7 2655.5,823.3 2780.9,822 2906.3,820.6" stroke-width="4"/>
<polyline points="2154.5,865.5 2281.2,864 2408,862.5 2534.8,861 2661.5,859.4 2788.3,857.9 2915,856.4" stroke-width="4"/>
<polyline points="2155,901.9 2281.6,899.9 2408.2,897.9 2534.8,896 2661.5,894 2788.1,892 2914.7,890" stroke-width="4"/>
<polyline points="2155.4,936.3 2280.7,934.7 2405.9,933.1 2531.1,931.5 2656.3,930 2781.5,928.4 2906.7,926.8" stroke-width="4"/>
<polyline points="2155.9,972.3 2281,970.5 2406.1,968.6 2531.2,966.8 2656.3,965 2781.3,963.1 2906.4,961.3" stroke-width="4"/>
<polyline points="2156.4,1008.2 2282.6,1006.6 2408.8,1005 2535,1003.4 2661.2,1001.8 2787.4,1000.2 2913.6,998.6" stroke-width="4"/>
<polyline points="2156.7,1044.1 2281.6,1042.5 2406.5,1040.9 2531.4,1039.3 2656.3,1037.7 2781.2,1036.1 2906.1,1034.5" stroke-width="4"/>
<polyline points="2157,1079.9 2283.1,1078.3 2409.3,1076.7 2535.4,1075.1 2661.5,1073.5 2787.6,1071.9 2913.8,1070.3" stroke-width="4"/>
<polyline points="2157.3,1115.8 2282.2,1114.2 2407,1112.6 2531.8,1111 2656.6,1109.4 2781.4,1107.8 2906.3,1106.2" stroke-width="4"/>
<polyline points="2157.7,1151.6 2282.2,1149.8 2406.7,1148 2531.2,1146.2 2655.8,1144.4 2780.3,1142.5 2904.8,1140.7" stroke-width="4"/>
<polyline points="2158,1188.3 2284,1186.8 2410,1185.3 2536,1183.8 2662,1182.2 2788,1180.7 2914,1179.2" stroke-width="4"/>
<polyline points="2158.3,1224.1 2282.8,1222.2 2407.2,1220.2 2531.7,1218.3 2656.1,1216.3 2780.5,1214.4 2905,1212.4" stroke-width="4"/>
<polyline points="2158.6,1256.4 2284.5,1254.6 2410.5,1252.7 2536.4,1250.9 2662.3,1249.1 2788.2,1247.2 2914.1,1245.4" stroke-width="4"/>
<polyline points="2158.9,1289.5 2283.3,1288.1 2407.7,1286.8 2532,1285.4 2656.4,1284 2780.8,1282.7 2905.1,1281.3" stroke-width="4"/>
<polyline points="2159.2,1325.3 2283.8,1323.7 2408.4,1322.1 2533,1320.6 2657.6,1319 2782.1,1317.4 2906.7,1315.8" stroke-width="4"/>
<polyline points="2159.5,1359.8 2285.3,1358 2411.1,1356.1 2536.9,1354.3 2662.7,1352.5 2788.5,1350.6 2914.3,1348.8" stroke-width="4"/>
<polyline points="2159.8,1392.9 2285.6,1390.8 2411.4,1388.8 2537.1,1386.7 2662.9,1384.6 2788.7,1382.6 2914.4,1380.5" stroke-width="4"/>
<polyline points="2160.2,1433.2 2285.9,1430.9 2411.6,1428.6 2537.3,1426.3 2663.1,1424.1 2788.8,1421.8 2914.5,1419.5" stroke-width="4.8"/>
<rect x="2411" y="1299" width="64" height="76" fill="#fdfdfd" stroke="none"/>
<rect x="2391" y="1341" width="21" height="33" fill="#fdfdfd" stroke="none"/>
<rect x="2714" y="790" width="19" height="28" fill="#fdfdfd" stroke="none"/>
<path d="M2343.8 795C2346.1 804.1 2352.5 831.7 2357.8 849.6C2363.1 867.4 2369.4 884.7 2375.8 902.1C2382.2 919.6 2389.1 936.9 2396.2 954.1C2403.3 971.3 2410.7 988.6 2418.7 1005.6C2426.6 1022.6 2434.8 1039.5 2443.8 1055.9C2452.7 1072.4 2462.1 1088.6 2472.3 1104.2C2482.5 1119.8 2493.4 1135 2505 1149.4C2516.7 1163.9 2529.1 1177.7 2542.3 1190.8C2555.5 1203.8 2569.5 1216.2 2584 1227.8C2598.6 1239.5 2613.9 1250.4 2629.6 1260.6C2645.3 1270.9 2661.6 1280.4 2678.1 1289.4C2694.5 1298.4 2711.4 1306.7 2728.3 1314.6C2745.2 1322.5 2762.3 1329.9 2779.6 1336.7C2796.8 1343.6 2814 1350.1 2831.7 1355.8C2849.4 1361.5 2877 1368.5 2886 1371" stroke-width="5.2"/>
<path d="M2340.5 1172.3C2343.7 1176.4 2353.2 1188.8 2359.7 1197C2366.1 1205.1 2372.6 1213.2 2379.2 1221.3C2385.7 1229.3 2392.4 1237.3 2399.2 1245.2C2406.1 1253 2413 1260.8 2420.2 1268.4C2427.3 1276 2434.6 1283.5 2442.2 1290.7C2449.7 1297.9 2457.5 1304.9 2465.4 1311.6C2473.4 1318.3 2481.6 1324.8 2490 1330.8C2498.5 1336.9 2507.1 1342.7 2516 1348C2524.9 1353.3 2534 1358.3 2543.4 1362.8C2552.7 1367.3 2562.3 1371.4 2572.1 1375C2581.8 1378.5 2591.8 1381.7 2601.9 1384.3C2612 1387 2622.2 1389.1 2632.6 1390.9C2642.9 1392.6 2653.4 1393.9 2663.8 1394.8C2674.2 1395.7 2684.7 1396.1 2695.1 1396.3C2705.5 1396.5 2720.9 1396.1 2726 1396" stroke-width="5.2"/>
<line x1="2343.8" y1="703.4" x2="2375" y2="710.3" stroke-width="5"/>
<line x1="2394.3" y1="711.7" x2="2437" y2="724.1" stroke-width="5"/>
<line x1="2457.7" y1="730.4" x2="2490.8" y2="743.4" stroke-width="5"/>
<line x1="2511" y1="753" x2="2540" y2="765.4" stroke-width="5"/>
<line x1="2555.1" y1="771.7" x2="2582.7" y2="787.5" stroke-width="5"/>
<line x1="2602" y1="793.8" x2="2634.5" y2="813.1" stroke-width="5"/>
<line x1="2659.9" y1="826.9" x2="2682" y2="841.2" stroke-width="5"/>
<line x1="2693" y1="853.6" x2="2719.2" y2="872.9" stroke-width="5"/>
<line x1="2727.5" y1="878.4" x2="2757.8" y2="904.1" stroke-width="5"/>
<line x1="2768.8" y1="914.3" x2="2796.4" y2="940.5" stroke-width="5"/>
<line x1="2807.4" y1="948.7" x2="2832.2" y2="974.9" stroke-width="5"/>
<line x1="2841.9" y1="982.1" x2="2866.7" y2="1008.2" stroke-width="5"/>
<line x1="2876.3" y1="1017.9" x2="2897" y2="1037.2" stroke-width="5"/>
<circle cx="2343.8" cy="795" r="5.5" fill="#000" stroke="none"/>
<circle cx="2340.5" cy="1172.5" r="4.5" fill="#000" stroke="none"/>
<circle cx="2886" cy="1371.5" r="5.5" fill="#000" stroke="none"/>
<circle cx="2726" cy="1396" r="5" fill="#000" stroke="none"/>
<circle cx="2345" cy="704" r="3.8" fill="#000" stroke="none"/>
<circle cx="2896" cy="1037" r="5" fill="#000" stroke="none"/>
<line x1="2706.8" y1="828.8" x2="2687.5" y2="849.5" stroke-width="2.6"/>
<line x1="2549.4" y1="1159.9" x2="2529.2" y2="1178" stroke-width="2.6"/>
<line x1="2441.8" y1="1325" x2="2457.8" y2="1309.1" stroke-width="2.6"/>
<text transform="translate(2723.3 817.3) scale(0.9852 1)" font-size="44.7" text-anchor="middle" font-style="italic">3</text>
<text transform="translate(2566.5 1144.5) scale(0.9852 1)" font-size="42.6" text-anchor="middle">1</text>
<text transform="translate(2431.3 1357.5) scale(0.9852 1)" font-size="46.7" text-anchor="middle" font-style="italic">2</text>
<text transform="translate(2250.5 605) scale(0.9852 1)" font-size="48" xml:space="preserve">Стрела  22,5м</text>
<text transform="translate(2130.2 662.6) scale(0.9852 1)" font-size="48.7" text-anchor="end">22</text>
<text transform="translate(2130.2 733) scale(0.9852 1)" font-size="48.7" text-anchor="end">20</text>
<text transform="translate(2129.2 814.2) scale(0.9852 1)" font-size="48.7" text-anchor="end">18</text>
<text transform="translate(2129.2 881.2) scale(0.9852 1)" font-size="48.7" text-anchor="end">16</text>
<text transform="translate(2129 944.6) scale(0.9852 1)" font-size="48.7" text-anchor="end">14</text>
<text transform="translate(2128.6 1020) scale(0.9852 1)" font-size="48.7" text-anchor="end">12</text>
<text transform="translate(2128 1094.3) scale(0.9852 1)" font-size="48.7" text-anchor="end">10</text>
<text transform="translate(2129.2 1168.2) scale(0.9852 1)" font-size="48.7" text-anchor="end">8</text>
<text transform="translate(2129.2 1239) scale(0.9852 1)" font-size="48.7" text-anchor="end">6</text>
<text transform="translate(2129.2 1301) scale(0.9852 1)" font-size="48.7" text-anchor="end">4</text>
<text transform="translate(2128.4 1374.2) scale(0.9852 1)" font-size="48.7" text-anchor="end">2</text>
<text transform="translate(2116 1443) scale(0.9852 1)" font-size="48.7" text-anchor="middle">0</text>
<text transform="translate(2966 720.5) scale(0.9852 1)" font-size="48.7" text-anchor="middle">20</text>
<text transform="translate(2965.3 891.4) scale(0.9852 1)" font-size="48.7" text-anchor="middle">15</text>
<text transform="translate(2964.5 1082) scale(0.9852 1)" font-size="48.7" text-anchor="middle">10</text>
<text transform="translate(2949.2 1253.7) scale(0.9852 1)" font-size="48.7" text-anchor="middle">5</text>
<text transform="translate(2239 1483.5) scale(0.9852 1)" font-size="48.7" text-anchor="middle">2</text>
<text transform="translate(2304.7 1483.5) scale(0.9852 1)" font-size="48.7" text-anchor="middle">4</text>
<text transform="translate(2383.6 1483.5) scale(0.9852 1)" font-size="48.7" text-anchor="middle">6</text>
<text transform="translate(2450.5 1483.5) scale(0.9852 1)" font-size="48.7" text-anchor="middle">8</text>
<text transform="translate(2518.4 1483.5) scale(0.9852 1)" font-size="48.7" text-anchor="middle">10</text>
<text transform="translate(2598.7 1483.5) scale(0.9852 1)" font-size="48.7" text-anchor="middle">12</text>
<text transform="translate(2665.7 1483.5) scale(0.9852 1)" font-size="48.7" text-anchor="middle">14</text>
<text transform="translate(2745.5 1483.5) scale(0.9852 1)" font-size="48.7" text-anchor="middle">16</text>
<text transform="translate(2811.2 1483.5) scale(0.9852 1)" font-size="48.7" text-anchor="middle">18</text>
<text transform="translate(2890.9 1483.5) scale(0.9852 1)" font-size="48.7" text-anchor="middle">20</text>
<text transform="translate(2512.7 1578.5) scale(0.9852 1)" font-size="50.2" text-anchor="middle">Вылет,М</text>
<text transform="translate(2253.5 1690) scale(0.9852 1)" font-size="48.5">1 - на выносных опорах</text>
<text transform="translate(2253.5 1743.4) scale(0.9852 1)" font-size="48.5">2 - без выносных опор</text>
<text transform="translate(2253.5 1798) scale(0.9852 1)" font-size="48.5">3 - высота подъема</text>
<text transform="translate(2034 1051.5) rotate(-90) scale(0.9852 1)" font-size="48.7" text-anchor="middle">Грузоподъемность,Т</text>
<text transform="translate(3067.5 1089) rotate(-90) scale(0.9852 1)" font-size="47.4" text-anchor="middle">Высота,М</text>
</g>
<g id="footless" fill="#fdfdfd" stroke="none"><rect x="698.1" y="871.2" width="9.2" height="6.3"/><rect x="713.8" y="871.2" width="9.1" height="6.3"/><rect x="733.5" y="610.2" width="9.3" height="6.3"/><rect x="749.4" y="610.2" width="9.2" height="6.3"/><rect x="433.2" y="921.6" width="9.2" height="6.3"/><rect x="448.9" y="921.6" width="9.1" height="6.3"/><rect x="433.2" y="984.2" width="9.2" height="6.3"/><rect x="448.9" y="984.2" width="9.1" height="6.3"/><rect x="432.5" y="1044" width="9.2" height="6.3"/><rect x="448.2" y="1044" width="9.1" height="6.3"/><rect x="432" y="1107.7" width="9.2" height="6.3"/><rect x="447.7" y="1107.7" width="9.1" height="6.3"/><rect x="430.8" y="1168.8" width="9.2" height="6.3"/><rect x="446.5" y="1168.8" width="9.1" height="6.3"/><rect x="944.3" y="1010.4" width="9.2" height="6.3"/><rect x="960" y="1010.4" width="9.1" height="6.3"/><rect x="943" y="1162.6" width="9.2" height="6.3"/><rect x="958.7" y="1162.6" width="9.1" height="6.3"/><rect x="781.9" y="1511" width="9.2" height="6.3"/><rect x="797.6" y="1511" width="9.1" height="6.3"/><rect x="849.4" y="1511" width="9.2" height="6.3"/><rect x="865.1" y="1511" width="9.1" height="6.3"/><rect x="915.7" y="1511" width="9.2" height="6.3"/><rect x="931.4" y="1511" width="9.1" height="6.3"/><rect x="453.7" y="1633.4" width="9.2" height="6.3"/><rect x="469.4" y="1633.4" width="9.1" height="6.3"/><rect x="1523.3" y="584.4" width="8.9" height="6.1"/><rect x="1538.5" y="584.4" width="8.8" height="6.1"/><rect x="1223" y="931.2" width="9.2" height="6.3"/><rect x="1238.7" y="931.2" width="9.1" height="6.3"/><rect x="1222.5" y="999.2" width="9.2" height="6.3"/><rect x="1238.2" y="999.2" width="9.1" height="6.3"/><rect x="1222" y="1060" width="9.2" height="6.3"/><rect x="1237.7" y="1060" width="9.1" height="6.3"/><rect x="1221" y="1136.2" width="9.2" height="6.3"/><rect x="1236.7" y="1136.2" width="9.1" height="6.3"/><rect x="1220.5" y="1199.5" width="9.2" height="6.3"/><rect x="1236.2" y="1199.5" width="9.1" height="6.3"/><rect x="1812.2" y="1033" width="9.2" height="6.3"/><rect x="1827.9" y="1033" width="9.1" height="6.3"/><rect x="1811.2" y="1194.2" width="9.2" height="6.3"/><rect x="1826.9" y="1194.2" width="9.1" height="6.3"/><rect x="1583.9" y="1567.8" width="9.2" height="6.3"/><rect x="1599.6" y="1567.8" width="9.1" height="6.3"/><rect x="1649.9" y="1567.8" width="9.2" height="6.3"/><rect x="1665.6" y="1567.8" width="9.1" height="6.3"/><rect x="1713.8" y="1567.8" width="9.2" height="6.3"/><rect x="1729.5" y="1567.8" width="9.1" height="6.3"/><rect x="1778.4" y="1567.8" width="9.2" height="6.3"/><rect x="1794.1" y="1567.8" width="9.1" height="6.3"/><rect x="1278.4" y="1685.8" width="8.9" height="6.1"/><rect x="1293.6" y="1685.8" width="8.8" height="6.1"/><rect x="2556.5" y="1139.4" width="8" height="5.6"/><rect x="2570.2" y="1139.4" width="8" height="5.6"/><rect x="2077.7" y="808.4" width="9.2" height="6.3"/><rect x="2093.4" y="808.4" width="9.1" height="6.3"/><rect x="2077.7" y="875.4" width="9.2" height="6.3"/><rect x="2093.4" y="875.4" width="9.1" height="6.3"/><rect x="2077.5" y="938.8" width="9.2" height="6.3"/><rect x="2093.2" y="938.8" width="9.1" height="6.3"/><rect x="2077.1" y="1014.2" width="9.2" height="6.3"/><rect x="2092.8" y="1014.2" width="9.1" height="6.3"/><rect x="2076.5" y="1088.5" width="9.2" height="6.3"/><rect x="2092.2" y="1088.5" width="9.1" height="6.3"/><rect x="2940.5" y="885.6" width="9.2" height="6.3"/><rect x="2956.2" y="885.6" width="9.1" height="6.3"/><rect x="2939.7" y="1076.2" width="9.2" height="6.3"/><rect x="2955.4" y="1076.2" width="9.1" height="6.3"/><rect x="2493.6" y="1477.7" width="9.2" height="6.3"/><rect x="2509.3" y="1477.7" width="9.1" height="6.3"/><rect x="2573.9" y="1477.7" width="9.2" height="6.3"/><rect x="2589.6" y="1477.7" width="9.1" height="6.3"/><rect x="2640.9" y="1477.7" width="9.2" height="6.3"/><rect x="2656.6" y="1477.7" width="9.1" height="6.3"/><rect x="2720.7" y="1477.7" width="9.2" height="6.3"/><rect x="2736.4" y="1477.7" width="9.1" height="6.3"/><rect x="2786.4" y="1477.7" width="9.2" height="6.3"/><rect x="2802.1" y="1477.7" width="9.1" height="6.3"/><rect x="2255.4" y="1684.3" width="9.1" height="6.2"/><rect x="2271" y="1684.3" width="9.1" height="6.2"/></g>
</g>
</svg>
</body></html>
